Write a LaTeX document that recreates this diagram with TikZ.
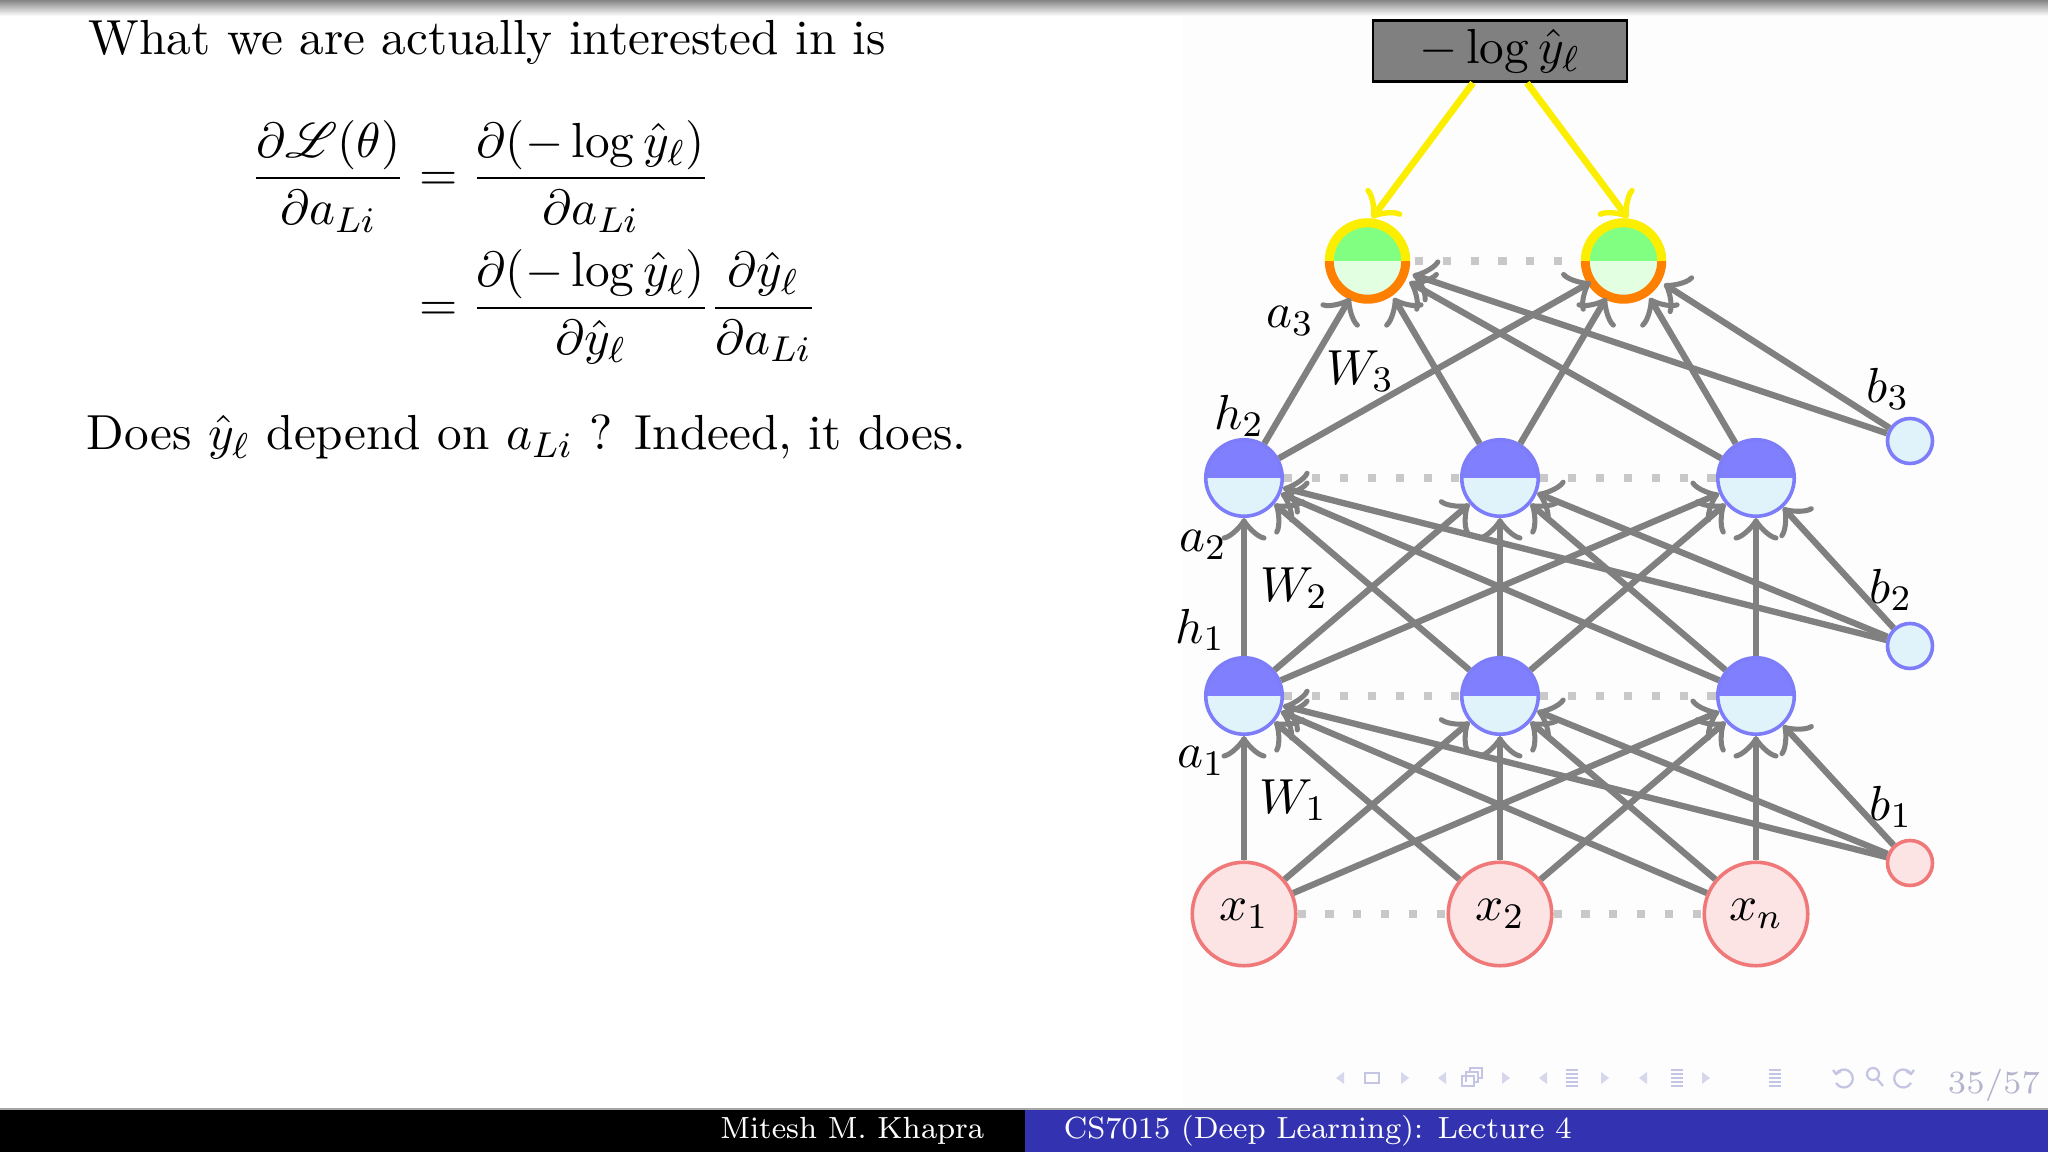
\documentclass[tikz,border=0pt]{standalone}
\usepackage{amsmath,amssymb,mathrsfs}
\usetikzlibrary{arrows.meta}
\font\ftfont=cmr8 at 6.8pt
\definecolor{cgray}{RGB}{128,128,128}
\definecolor{dotgray}{RGB}{200,200,200}
\definecolor{htop}{RGB}{128,128,255}
\definecolor{hbot}{RGB}{224,243,251}
\definecolor{hbord}{RGB}{125,125,250}
\definecolor{otop}{RGB}{128,255,128}
\definecolor{obot}{RGB}{226,255,226}
\definecolor{oyel}{RGB}{252,238,0}
\definecolor{oorg}{RGB}{255,128,0}
\definecolor{ifill}{RGB}{253,228,228}
\definecolor{ibord}{RGB}{240,120,120}
\definecolor{fblue}{RGB}{51,51,178}
\definecolor{navc}{RGB}{196,196,228}
\definecolor{pagec}{RGB}{180,180,205}
\definecolor{boxgray}{RGB}{128,128,128}
\begin{document}
\begin{tikzpicture}[x=0.22229pt,y=0.22229pt,
  conn/.style={draw=cgray, line width=1.4pt, -{Classical TikZ Rightarrow[width=10pt,length=5pt]}},
  yconn/.style={draw=oyel, line width=1.5pt, -{Classical TikZ Rightarrow[width=10pt,length=5pt]}},
  dotl/.style={draw=dotgray, line width=1.8pt, dash pattern=on 1.8pt off 4.4pt},
  hid/.style={circle, minimum size=17pt, inner sep=0pt, draw=hbord, line width=0.8pt,
    path picture={\fill[htop] (path picture bounding box.north west) rectangle (path picture bounding box.east);
      \fill[hbot] (path picture bounding box.west) rectangle (path picture bounding box.south east);}},
  outn/.style={circle, minimum size=17pt, inner sep=0pt, outer sep=1pt,
    path picture={\fill[otop] (path picture bounding box.north west) rectangle (path picture bounding box.east);
      \fill[obot] (path picture bounding box.west) rectangle (path picture bounding box.south east);}},
  inp/.style={circle, minimum size=23pt, inner sep=0pt, draw=ibord, fill=ifill, line width=0.8pt},
  bhid/.style={circle, minimum size=10pt, inner sep=0pt, draw=hbord, fill=hbot, line width=0.8pt},
  binp/.style={circle, minimum size=10pt, inner sep=0pt, draw=ibord, fill=ifill, line width=0.8pt},
  lab/.style={inner sep=0pt, font=\fontsize{10.95}{13}\selectfont},
  navs/.style={draw=navc, line width=0.5pt},
]
\useasboundingbox (0,0) rectangle (2048,1152);
\fill[white] (0,0) rectangle (2048,1152);
\fill[black!0.6] (1183,43) rectangle (2048,1137);
% top gradient bar
\shade[top color=black!48, bottom color=white] (0,1136) rectangle (2048,1152);

% left text
\node[lab, anchor=base west] (t1) at (88,1097) {What we are actually interested in is};
\node[lab, anchor=west] (eq) at (250,910) {$\displaystyle
\begin{aligned}
\frac{\partial \mathscr{L}(\theta)}{\partial a_{Li}} &= \frac{\partial(-\log \hat{y}_\ell)}{\partial a_{Li}}\\
&= \frac{\partial(-\log \hat{y}_\ell)}{\partial \hat{y}_\ell}\frac{\partial \hat{y}_\ell}{\partial a_{Li}}
\end{aligned}$};
\node[lab, anchor=base west] (t2) at (86,702) {Does $\hat{y}_\ell$ depend on $a_{Li}$ ? Indeed, it does.};

% nodes
\node[draw=black, fill=boxgray, line width=0.6pt, minimum width=56.5pt, minimum height=13.6pt, inner sep=0pt, font=\fontsize{10.95}{13}\selectfont] (loss) at (1500,1101) {$-\log \hat{y}_\ell$};

\node[outn] (o1) at (1372,891) {};
\node[outn] (o2) at (1628,891) {};

\node[hid] (h21) at (1244,674) {};
\node[hid] (h22) at (1500,674) {};
\node[hid] (h23) at (1756,674) {};

\node[hid] (h11) at (1244,456) {};
\node[hid] (h12) at (1500,456) {};
\node[hid] (h13) at (1756,456) {};

\node[inp, font=\fontsize{10.95}{13}\selectfont] (x1) at (1244,238) {$x_1$};
\node[inp, font=\fontsize{10.95}{13}\selectfont] (x2) at (1500,238) {$x_2$};
\node[inp, font=\fontsize{10.95}{13}\selectfont] (xn) at (1756,238) {$x_n$};

\node[bhid] (b3) at (1910,711) {};
\node[bhid] (b2) at (1910,506) {};
\node[binp] (b1) at (1910,289) {};

% dotted lines
\draw[dotl] (o1.east) -- (o2.west);
\draw[dotl] (h21.east) -- (h22.west);
\draw[dotl] (h22.east) -- (h23.west);
\draw[dotl] (h11.east) -- (h12.west);
\draw[dotl] (h12.east) -- (h13.west);
\draw[dotl] (x1.east) -- (x2.west);
\draw[dotl] (x2.east) -- (xn.west);

% output borders
\draw[oorg, line width=2pt] (o1.west) arc[start angle=180, end angle=360, radius=8.5pt];
\draw[oyel, line width=2pt] (o1.west) arc[start angle=180, end angle=0, radius=8.5pt];
\draw[oorg, line width=2pt] (o2.west) arc[start angle=180, end angle=360, radius=8.5pt];
\draw[oyel, line width=2pt] (o2.west) arc[start angle=180, end angle=0, radius=8.5pt];

% connections
\foreach \s in {x1,x2,xn,b1}{
  \foreach \t in {h11,h12,h13}{
    \draw[conn] (\s) -- (\t);
  }
}
\foreach \s in {h11,h12,h13,b2}{
  \foreach \t in {h21,h22,h23}{
    \draw[conn] (\s) -- (\t);
  }
}
\foreach \s in {h21,h22,h23,b3}{
  \foreach \t in {o1,o2}{
    \draw[conn] (\s) -- (\t);
  }
}
\draw[yconn] ([xshift=-27*0.22229pt]loss.south) -- (o1.north);
\draw[yconn] ([xshift=27*0.22229pt]loss.south) -- (o2.north);

% labels
\node[lab] (la3) at (1290,831) {$a_3$};
\node[lab] (lW3) at (1360,781) {$W_3$};
\node[lab] (lh2) at (1239,736) {$h_2$};
\node[lab] (la2) at (1203,607) {$a_2$};
\node[lab] (lW2) at (1294,564) {$W_2$};
\node[lab] (lh1) at (1200,522) {$h_1$};
\node[lab] (la1) at (1201,391) {$a_1$};
\node[lab] (lW1) at (1293,352) {$W_1$};
\node[lab] (lb3) at (1888,763) {$b_3$};
\node[lab] (lb2) at (1891,562) {$b_2$};
\node[lab] (lb1) at (1891,345) {$b_1$};

% footer
\fill[black] (0,0) rectangle (1025,43);
\fill[fblue] (1025,0) rectangle (2048,43);
\draw[black!35, line width=0.3pt] (0,43) -- (2048,43);
\node[anchor=base east, text=white, inner sep=0pt, font=\ftfont] (ft1) at (985,13) {Mitesh M. Khapra};
\node[anchor=base west, text=white, inner sep=0pt, font=\ftfont] (ft2) at (1063,13) {CS7015 (Deep Learning): Lecture 4};

% navigation symbols
\node[anchor=center, text=pagec, inner sep=0pt, font=\fontsize{7.2}{9}\selectfont] (pg) at (1994,67) {35/57};
\begin{scope}[navs]
  % group 1
  \fill[navc!70] (1336,74) -- (1344,80) -- (1344,68) -- cycle;
  \draw (1365,69) rectangle (1379,79);
  \fill[navc!70] (1409,74) -- (1401,80) -- (1401,68) -- cycle;
  % group 2
  \fill[navc!70] (1438,74) -- (1446,80) -- (1446,68) -- cycle;
  \draw (1462,66) rectangle (1474,76);
  \draw (1466,70) -- (1466,80) -- (1478,80) -- (1478,70) -- (1474,70);
  \draw (1470,80) -- (1470,84) -- (1482,84) -- (1482,74) -- (1478,74);
  \fill[navc!70] (1510,74) -- (1502,80) -- (1502,68) -- cycle;
  % group 3
  \fill[navc!70] (1539,74) -- (1547,80) -- (1547,68) -- cycle;
  \foreach \yy in {66,70,74,78,82} \draw (1566,\yy) -- (1578,\yy);
  \fill[navc!70] (1609,74) -- (1601,80) -- (1601,68) -- cycle;
  % group 4
  \fill[navc!70] (1639,74) -- (1647,80) -- (1647,68) -- cycle;
  \foreach \yy in {66,70,74,78,82} \draw (1671,\yy) -- (1683,\yy);
  \fill[navc!70] (1710,74) -- (1702,80) -- (1702,68) -- cycle;
  % single
  \foreach \yy in {66,70,74,78,82} \draw (1769,\yy) -- (1781,\yy);
  % back / search / forward
  \draw (1836,78) arc[start angle=150, end angle=-150, radius=9];
  \draw (1833,82) -- (1836,78) -- (1841,81);
  \draw (1873,78) circle (6);
  \draw (1877,73) -- (1883,66);
  \draw (1911,78) arc[start angle=30, end angle=330, radius=9];
  \draw (1914,82) -- (1911,78) -- (1906,81);
\end{scope}
\end{tikzpicture}
\end{document}
